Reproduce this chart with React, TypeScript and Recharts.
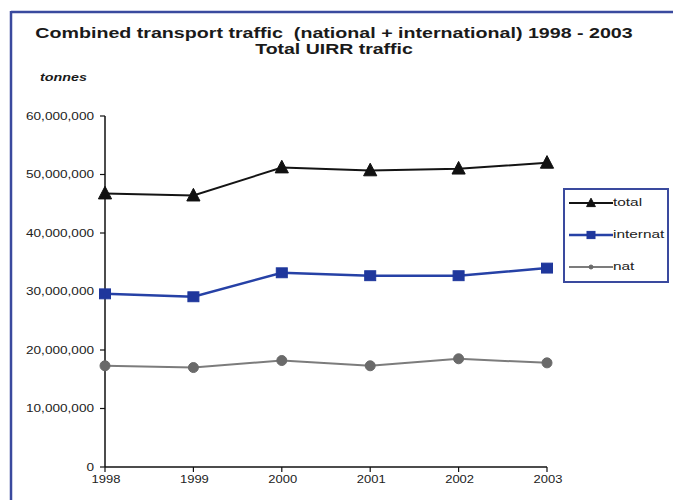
import React from "react";
import { LineChart, Line, XAxis, YAxis, Legend } from "recharts";

// Years on the category axis
const years = ["1998", "1999", "2000", "2001", "2002", "2003"];

// Tonnes carried per year
const totalTonnes = [46750000, 46400000, 51200000, 50700000, 51000000, 52000000];
const internatTonnes = [29600000, 29100000, 33200000, 32700000, 32700000, 34000000];
const natTonnes = [17300000, 17000000, 18200000, 17300000, 18500000, 17800000];

// Value-axis ticks
const yTicks = [0, 10000000, 20000000, 30000000, 40000000, 50000000, 60000000];

const data = years.map((year, i) => ({
  year,
  total: totalTonnes[i],
  internat: internatTonnes[i],
  nat: natTonnes[i],
}));

type Shape = "triangle" | "square" | "circle";

const series: { key: string; color: string; markerColor: string; width: number; shape: Shape }[] = [
  { key: "total", color: "#141414", markerColor: "#111111", width: 2, shape: "triangle" },
  { key: "internat", color: "#2641a6", markerColor: "#1f379c", width: 2.5, shape: "square" },
  { key: "nat", color: "#7c7c7c", markerColor: "#6a6a6a", width: 2, shape: "circle" },
];

const BORDER = "#3a4a9e";
const FONT = "'Liberation Sans', Arial, sans-serif";
const STRETCH = 1.3;

function marker(shape: Shape, cx: number, cy: number, color: string, size: number, key?: string) {
  if (shape === "triangle") {
    const h = size;
    return (
      <polygon
        key={key}
        points={`${cx},${cy - h * 0.6} ${cx - h * 0.55},${cy + h * 0.45} ${cx + h * 0.55},${cy + h * 0.45}`}
        fill={color}
        stroke={color}
        strokeWidth={1}
      />
    );
  }
  if (shape === "square") {
    return (
      <rect key={key} x={cx - size / 2} y={cy - size * 0.45} width={size} height={size * 0.9} fill={color} stroke={color} />
    );
  }
  return <circle key={key} cx={cx} cy={cy} r={size / 2} fill={color} stroke={color} />;
}

const YTick = (props: any) => {
  const { x, y, payload } = props;
  return (
    <g transform={`translate(${x},${y}) scale(1.36,1)`}>
      <text x={0} y={0} dy="0.35em" textAnchor="end" fontSize={10} fontFamily={FONT} fill="#222">
        {Number(payload.value).toLocaleString("en-US")}
      </text>
    </g>
  );
};

const XTick = (props: any) => {
  const { x, y, payload } = props;
  return (
    <g transform={`translate(${x + 1},${y}) scale(${STRETCH},1)`}>
      <text x={0} y={0} dy="0.71em" textAnchor="middle" fontSize={10} fontFamily={FONT} fill="#222">
        {payload.value}
      </text>
    </g>
  );
};

const LegendBox = (props: any) => {
  const order = series.map((s) => s.key);
  const payload: any[] = [...(props.payload || [])].sort(
    (a, b) => order.indexOf(String(a.dataKey)) - order.indexOf(String(b.dataKey))
  );
  return (
    <svg width={106} height={95} style={{ display: "block" }}>
      <rect x={1} y={1} width={104} height={93} fill="#fff" stroke={BORDER} strokeWidth={2} />
      {payload.map((entry, i) => {
        const s = series.find((d) => d.key === entry.dataKey) || series[0];
        const cy = 15 + i * 32;
        return (
          <g key={String(entry.dataKey)}>
            <line x1={6} x2={50} y1={cy} y2={cy} stroke={s.color} strokeWidth={s.width} />
            {marker(s.shape, 28, cy, s.markerColor, s.shape === "circle" ? 4 : 8)}
            <g transform={`translate(50,${cy}) scale(1.4,1)`}>
              <text x={0} y={0} dy="0.3em" fontSize={11} fontFamily={FONT} fill="#222">
                {entry.value}
              </text>
            </g>
          </g>
        );
      })}
    </svg>
  );
};

export default function App() {
  return (
    <div style={{ position: "absolute", left: 0, top: 0, width: 673, height: 500, background: "#fff", overflow: "hidden" }}>
      <LineChart width={673} height={500} data={data} margin={{ top: 116, right: 126, bottom: 3, left: 10 }}>
        <XAxis
          dataKey="year"
          type="category"
          height={30}
          padding={{ left: 0, right: 0 }}
          axisLine={{ stroke: "#111", strokeWidth: 1.5 }}
          tickLine={{ stroke: "#111", strokeWidth: 1.2 }}
          tickSize={5}
          tickMargin={4}
          tick={<XTick />}
          interval={0}
        />
        <YAxis
          width={95}
          domain={[0, 60000000]}
          ticks={yTicks}
          interval={0}
          axisLine={{ stroke: "#111", strokeWidth: 1.5 }}
          tickLine={{ stroke: "#111", strokeWidth: 1.2 }}
          tickSize={5}
          tickMargin={6}
          tick={<YTick />}
        />
        <Legend
          layout="vertical"
          align="center"
          verticalAlign="middle"
          content={<LegendBox />}
          wrapperStyle={{ left: 563, top: 188, width: 106, height: 95 }}
        />
        {series.map((s) => (
          <Line
            key={s.key}
            dataKey={s.key}
            name={s.key}
            type="linear"
            stroke={s.color}
            strokeWidth={s.width}
            isAnimationActive={false}
            dot={(p: any) =>
              marker(s.shape, p.cx, p.cy, s.markerColor, s.shape === "triangle" ? 12 : s.shape === "square" ? 11 : 10, `${s.key}-${p.index}`)
            }
            activeDot={false}
          />
        ))}
      </LineChart>
      <svg width={673} height={500} style={{ position: "absolute", left: 0, top: 0, pointerEvents: "none" }}>
        <line x1={11} y1={12} x2={673} y2={12} stroke={BORDER} strokeWidth={2.5} />
        <line x1={11} y1={11} x2={11} y2={500} stroke={BORDER} strokeWidth={2.5} />
        <g transform={`translate(334,38) scale(1.31,1)`}>
          <text x={0} y={0} textAnchor="middle" fontSize={15} fontWeight="bold" fontFamily={FONT} fill="#1a1a1a" style={{ whiteSpace: "pre" }}>
            Combined transport traffic  (national + international) 1998 - 2003
          </text>
        </g>
        <g transform={`translate(334,54) scale(${STRETCH},1)`}>
          <text x={0} y={0} textAnchor="middle" fontSize={15} fontWeight="bold" fontFamily={FONT} fill="#1a1a1a">
            Total UIRR traffic
          </text>
        </g>
        <g transform={`translate(40,81) scale(${STRETCH},1)`}>
          <text x={0} y={0} fontSize={11} fontWeight="bold" fontStyle="italic" fontFamily={FONT} fill="#1a1a1a">
            tonnes
          </text>
        </g>
      </svg>
    </div>
  );
}
